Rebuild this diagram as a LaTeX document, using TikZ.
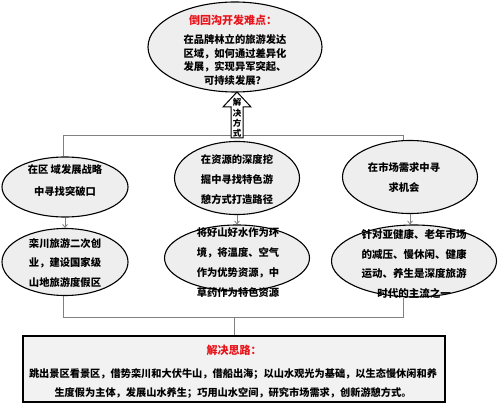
\documentclass[tikz,border=0pt]{standalone}
\usepackage{fontspec}
\newfontfamily\cjk{Noto Sans CJK SC}
\usetikzlibrary{shapes.geometric,arrows.meta}
\definecolor{ellfill}{HTML}{EEEEEE}
\definecolor{boxfill}{HTML}{F2F2F2}
\definecolor{conncol}{HTML}{808080}
\definecolor{titlered}{HTML}{E8141B}
\begin{document}
\begin{tikzpicture}[x=1pt,y=-1pt,
  ell/.style={ellipse,draw=black,line width=1.1pt,fill=ellfill,inner sep=0pt},
  txt/.style={font=\cjk\bfseries\fontsize{10}{20}\selectfont,align=center,inner sep=0pt},
  ttl/.style={font=\cjk\bfseries\fontsize{11}{13}\selectfont,text=titlered,inner sep=0pt},
  conn/.style={draw=conncol,line width=0.8pt},
  carrow/.style={conn,-{Straight Barb[length=3pt,width=5pt]}}]
\useasboundingbox (0,0) rectangle (500,403);

% ellipses
\node[ell,minimum width=174pt,minimum height=90pt] (e0) at (235,47) {};
\node[ell,minimum width=126pt,minimum height=60pt] (e1) at (65,187) {};
\node[ell,minimum width=125pt,minimum height=73pt] (e2) at (237,178) {};
\node[ell,minimum width=135pt,minimum height=73pt] (e3) at (410,177) {};
\node[ell,minimum width=126pt,minimum height=67pt] (e4) at (65,262) {};
\node[ell,minimum width=145pt,minimum height=66pt] (e5) at (237,258) {};
\node[ell,minimum width=165pt,minimum height=72pt] (e6) at (414,261) {};

% bottom box
\node[draw=black,line width=1.5pt,fill=boxfill,minimum width=422pt,minimum height=66pt,inner sep=0pt] (box) at (234,369) {};

% frame connectors
\coordinate (fl) at (63,135);
\coordinate (fr) at (403,135);
\coordinate (bl) at (63,317);
\coordinate (br) at (403,317);
\coordinate (bm) at (234,317);
\draw[conn] (fl |- e1.north) -- (fl) -- (fr) -- (fr |- e3.north);
\draw[conn] (bl |- e4.south) -- (bl) -- (br) -- (br |- e6.south);
\draw[conn] (bm) -- (box.north);

% down arrows
\draw[carrow] (e1.south) -- (e1.south |- e4.north);
\draw[carrow] (e2.south) -- (e2.south |- e5.north);
\draw[carrow] (e3.south) -- (e3.south |- e6.north);

% up arrow
\draw[draw=black,line width=1pt,fill=white] (231,138) -- (231,107) -- (223,107) -- (237,92) -- (251,107) -- (243,107) -- (243,138) -- cycle;
\node[txt,font=\cjk\bfseries\fontsize{8.5}{10.4}\selectfont] (way) at (237,118) {解\\决\\方\\式};

% texts
\node[ttl] (t0h) at (233,20) {倒回沟开发难点：};
\node[txt,font=\cjk\bfseries\fontsize{10.3}{13.7}\selectfont] (t0) at (235,60) {在品牌林立的旅游发达\\区域，如何通过差异化\\发展，实现异军突起、\\可持续发展？};
\node[txt,font=\cjk\bfseries\fontsize{10.3}{22}\selectfont] (t1) at (65,181) {在区 域发展战略\\中寻找突破口};
\node[txt,font=\cjk\bfseries\fontsize{10.3}{20}\selectfont] (t2) at (237,180) {在资源的深度挖\\掘中寻找特色游\\憩方式打造路径};
\node[txt,font=\cjk\bfseries\fontsize{10.3}{20}\selectfont] (t3) at (404,178) {在市场需求中寻\\求机会};
\node[txt,font=\cjk\bfseries\fontsize{10.3}{19.5}\selectfont] (t4) at (65,263) {栾川旅游二次创\\业，建设国家级\\山地旅游度假区};
\node[txt,font=\cjk\bfseries\fontsize{10.3}{20}\selectfont] (t5) at (238,263) {将好山好水作为环\\境，将温度、空气\\作为优势资源，中\\草药作为特色资源};
\node[txt,font=\cjk\bfseries\fontsize{10.5}{19.5}\selectfont] (t6) at (414,264) {针对亚健康、老年市场\\的减压、慢休闲、健康\\运动、养生是深度旅游\\时代的主流之一};

\node[ttl] (tbh) at (234,350) {解决思路：};
\node[txt,font=\cjk\bfseries\fontsize{10.2}{19}\selectfont] (tb) at (233,383.5) {跳出景区看景区，借势栾川和大伏牛山，借船出海；以山水观光为基础，以生态慢休闲和养\\生度假为主体，发展山水养生；巧用山水空间，研究市场需求，创新游憩方式。};
\end{tikzpicture}
\end{document}
